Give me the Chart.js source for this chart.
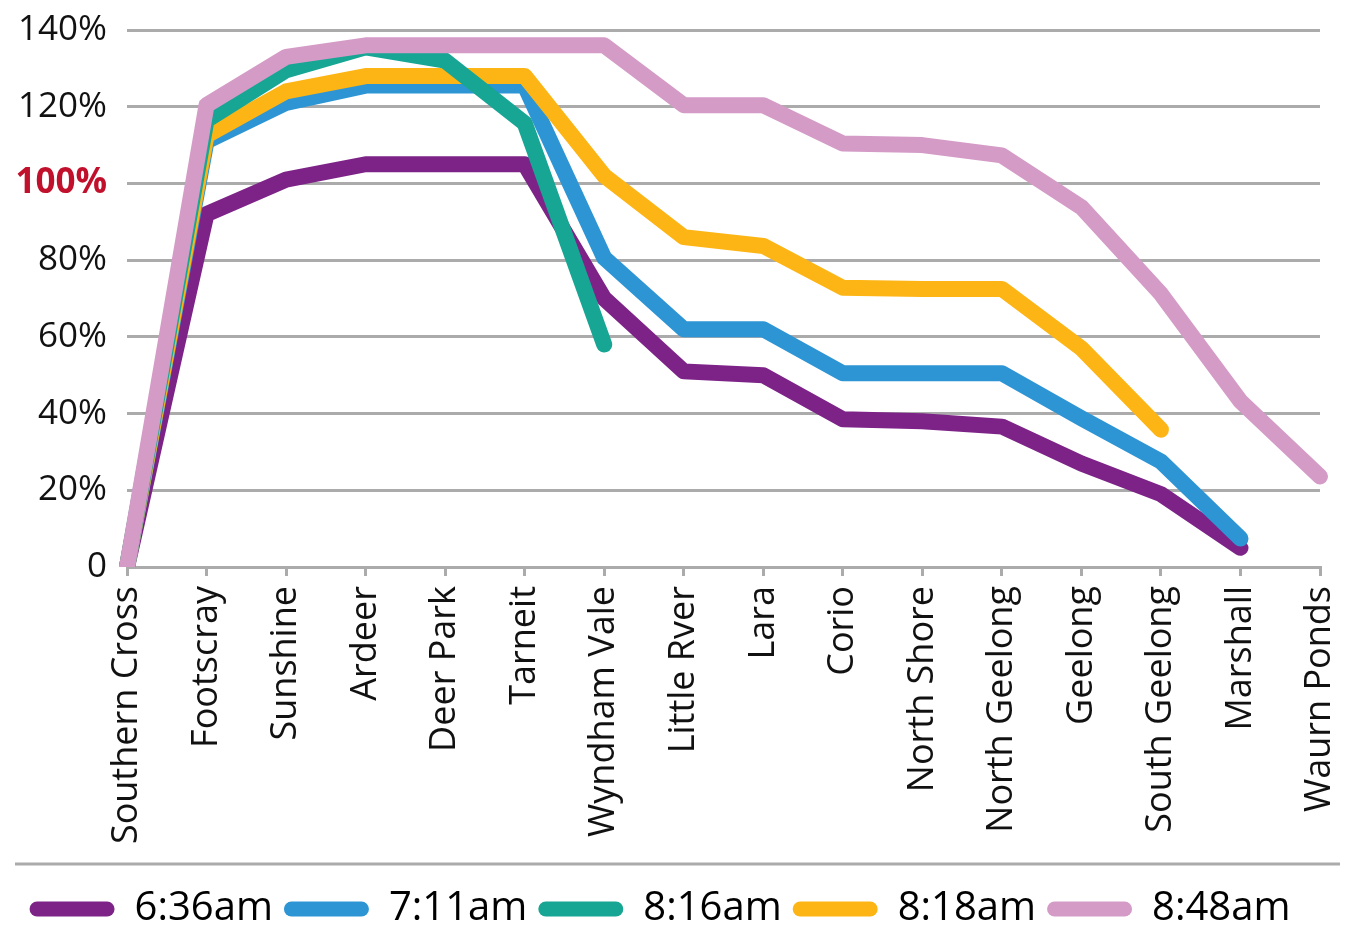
<!DOCTYPE html>
<html>
<head>
<meta charset="utf-8">
<title>Geelong line loads by station</title>
<script src="https://cdn.jsdelivr.net/npm/chart.js@4.4.1/dist/chart.umd.min.js"></script>
<style>
  html, body { margin: 0; padding: 0; background: #ffffff; }
  #wrap { width: 1349px; height: 927px; position: relative; }
</style>
</head>
<body>
<div id="wrap"><canvas id="c" width="1349" height="927"></canvas></div>
<script>
// Stations along the line, city to Waurn Ponds
const stations = ['Southern Cross', 'Footscray', 'Sunshine', 'Ardeer', 'Deer Park', 'Tarneit',
  'Wyndham Vale', 'Little Rver', 'Lara', 'Corio', 'North Shore', 'North Geelong', 'Geelong',
  'South Geelong', 'Marshall', 'Waurn Ponds'];

// Load as a percentage of seated capacity, per service
const load0636 = [0, 92, 101, 105, 105, 105, 70, 51, 50, 38.5, 38, 36.6, 27, 19, 5, null];
const load0711 = [0, 111, 121, 125.5, 125.5, 125.5, 80.6, 62, 62, 50.5, 50.5, 50.5, 38.8, 27.5, 7.4, null];
const load0816 = [0, 116.5, 129.5, 135.5, 132, 115.7, 58, null, null, null, null, null, null, null, null, null];
const load0818 = [0, 112.5, 124, 128, 128, 128, 102, 86, 83.7, 72.8, 72.5, 72.5, 57, 35.8, null, null];
const load0848 = [0, 120.4, 133, 136, 136, 136, 136, 120.4, 120.4, 110.4, 110, 107.3, 93.8, 71.2, 43.2, 23.6];

const serviceNames = ['6:36am', '7:11am', '8:16am', '8:18am', '8:48am'];
const yTicks = [0, 20, 40, 60, 80, 100, 120, 140];

const colours = ['#7d2387', '#2e95d5', '#17a594', '#fdb515', '#d49bc7'];
const stack = [4, 3, 1, 2, 0]; // lower number is drawn on top
const seriesValues = [load0636, load0711, load0816, load0818, load0848];

const datasets = serviceNames.map((name, i) => ({
  label: name,
  data: seriesValues[i],
  borderColor: colours[i],
  backgroundColor: colours[i],
  borderWidth: 16,
  borderCapStyle: 'round',
  borderJoinStyle: 'round',
  pointRadius: 0,
  pointHoverRadius: 0,
  tension: 0,
  fill: false,
  spanGaps: false,
  order: stack[i]
}));

const FONT = "'Open Sans', 'Noto Sans', sans-serif";
const GRID = '#ababab';

// Thin rule between the station labels and the legend
const separator = {
  id: 'separator',
  afterDraw(chart) {
    const xs = chart.scales.x;
    const y = Math.round(xs.bottom - 14);
    const c = chart.ctx;
    c.save();
    c.strokeStyle = GRID;
    c.lineWidth = 3;
    c.beginPath();
    c.moveTo(15, y);
    c.lineTo(1340, y);
    c.stroke();
    c.restore();
  }
};

new Chart(document.getElementById('c'), {
  type: 'line',
  data: { labels: stations, datasets },
  plugins: [separator],
  options: {
    responsive: false,
    animation: false,
    events: [],
    layout: { padding: { top: 30, right: 29, left: 0, bottom: -12 } },
    plugins: {
      title: { display: false },
      tooltip: { enabled: false },
      legend: {
        position: 'bottom',
        align: 'center',
        labels: {
          sort: (a, b) => a.datasetIndex - b.datasetIndex,
          boxWidth: 85,
          boxHeight: 15,
          useBorderRadius: true,
          borderRadius: 7.5,
          padding: 11,
          color: '#000000',
          font: { family: FONT, size: 40 },
          generateLabels(chart) {
            return chart.data.datasets.map((ds, i) => ({
              text: ds.label,
              fillStyle: ds.borderColor,
              strokeStyle: ds.borderColor,
              lineWidth: 0,
              datasetIndex: i,
              hidden: false,
              borderRadius: 7.5,
              fontColor: '#000000'
            }));
          }
        }
      }
    },
    scales: {
      x: {
        type: 'category',
        offset: false,
        afterFit(scale) {
          scale.height = 311;
          scale.paddingLeft = 0;
          scale.paddingRight = 0;
        },
        grid: {
          drawOnChartArea: false,
          drawTicks: true,
          tickLength: 9,
          color: GRID,
          lineWidth: 3
        },
        border: { display: true, color: GRID, width: 3 },
        ticks: {
          autoSkip: false,
          maxRotation: 90,
          minRotation: 90,
          padding: 10,
          color: '#111111',
          font: { family: FONT, size: 36 }
        }
      },
      y: {
        min: 0,
        max: 140,
        afterFit(scale) {
          scale.width = 127;
          scale.paddingTop = 0;
          scale.paddingBottom = 0;
        },
        afterBuildTicks(scale) { scale.ticks = yTicks.map(v => ({ value: v })); },
        grid: {
          drawTicks: false,
          color: GRID,
          lineWidth: 3
        },
        border: { display: false },
        ticks: {
          padding: 20,
          color: ctx => ctx.tick.value === 100 ? '#c1102c' : '#111111',
          font: ctx => ctx.tick && ctx.tick.value === 100
            ? { family: FONT, size: 35, weight: 'bold' }
            : { family: FONT, size: 35 },
          callback: v => v === 0 ? '0' : v + '%'
        }
      }
    }
  }
});
</script>
</body>
</html>
